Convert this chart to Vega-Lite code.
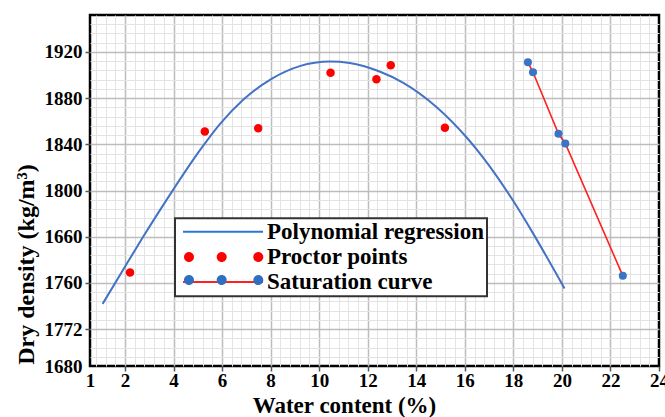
{
  "$schema": "https://vega.github.io/schema/vega-lite/v6.json",
  "width": 569,
  "height": 351,
  "autosize": {"type": "none"},
  "padding": {"left": 90, "top": 15, "right": 6, "bottom": 51},
  "background": "white",
  "config": {
    "view": {"stroke": "#000000", "strokeWidth": 2.5},
    "font": "Liberation Serif"
  },
  "data": {
    "values": [
      {"series": "Polynomial regression", "w": 1.08, "d": 1701.8},
      {"series": "Polynomial regression", "w": 2.0, "d": 1734.0},
      {"series": "Polynomial regression", "w": 2.75, "d": 1759.9},
      {"series": "Polynomial regression", "w": 3.99, "d": 1800.8},
      {"series": "Polynomial regression", "w": 5.09, "d": 1834.9},
      {"series": "Polynomial regression", "w": 5.91, "d": 1857.5},
      {"series": "Polynomial regression", "w": 6.87, "d": 1878.6},
      {"series": "Polynomial regression", "w": 8.04, "d": 1896.7},
      {"series": "Polynomial regression", "w": 9.2, "d": 1907.7},
      {"series": "Polynomial regression", "w": 10.44, "d": 1911.7},
      {"series": "Polynomial regression", "w": 11.26, "d": 1910.5},
      {"series": "Polynomial regression", "w": 12.49, "d": 1903.1},
      {"series": "Polynomial regression", "w": 13.45, "d": 1893.5},
      {"series": "Polynomial regression", "w": 14.83, "d": 1872.4},
      {"series": "Polynomial regression", "w": 16.07, "d": 1846.1},
      {"series": "Polynomial regression", "w": 16.81, "d": 1827.0},
      {"series": "Polynomial regression", "w": 17.98, "d": 1791.5},
      {"series": "Polynomial regression", "w": 18.8, "d": 1763.3},
      {"series": "Polynomial regression", "w": 20.11, "d": 1715.1},
      {"series": "Proctor points", "w": 2.21, "d": 1729.0},
      {"series": "Proctor points", "w": 5.29, "d": 1851.0},
      {"series": "Proctor points", "w": 7.49, "d": 1854.0},
      {"series": "Proctor points", "w": 10.47, "d": 1902.0},
      {"series": "Proctor points", "w": 12.36, "d": 1896.4},
      {"series": "Proctor points", "w": 12.95, "d": 1908.5},
      {"series": "Proctor points", "w": 15.18, "d": 1854.3},
      {"series": "Saturation curve", "w": 18.6, "d": 1911.0},
      {"series": "Saturation curve", "w": 18.81, "d": 1902.4},
      {"series": "Saturation curve", "w": 19.86, "d": 1849.1},
      {"series": "Saturation curve", "w": 20.14, "d": 1840.7},
      {"series": "Saturation curve", "w": 22.51, "d": 1726.1}
    ]
  },
  "resolve": {"axis": {"x": "independent", "y": "independent"}},
  "layer": [
    {
      "transform": [{"filter": "datum.series === 'Polynomial regression'"}],
      "mark": {"type": "line", "color": "#4472c4", "strokeWidth": 2, "interpolate": "monotone"},
      "encoding": {
        "x": {
          "field": "w", "type": "quantitative",
          "scale": {"domain": [0.56, 24], "nice": false, "zero": false},
          "axis": {
            "orient": "top", "title": null, "labels": false, "ticks": false, "domain": false,
            "grid": true, "gridColor": "#e3e3e3", "gridWidth": 1,
            "values": [0.8, 1.2, 1.6, 2.4, 2.8, 3.2, 3.6, 4.4, 4.8, 5.2, 5.6, 6.4, 6.8, 7.2, 7.6, 8.4, 8.8, 9.2, 9.6, 10.4, 10.8, 11.2, 11.6, 12.4, 12.8, 13.2, 13.6, 14.4, 14.8, 15.2, 15.6, 16.4, 16.8, 17.2, 17.6, 18.4, 18.8, 19.2, 19.6, 20.4, 20.8, 21.2, 21.6, 22.4, 22.8, 23.2, 23.6]
          }
        },
        "y": {
          "field": "d", "type": "quantitative",
          "scale": {"domain": [1648, 1952], "nice": false, "zero": false},
          "axis": {
            "orient": "right", "title": null, "labels": false, "ticks": false, "domain": false,
            "grid": true, "gridColor": "#e3e3e3", "gridWidth": 1,
            "values": [1656, 1664, 1672, 1688, 1696, 1704, 1712, 1728, 1736, 1744, 1752, 1768, 1776, 1784, 1792, 1808, 1816, 1824, 1832, 1848, 1856, 1864, 1872, 1888, 1896, 1904, 1912, 1928, 1936, 1944]
          }
        }
      }
    },
    {
      "transform": [{"filter": "datum.series === 'Proctor points'"}],
      "mark": {"type": "point", "filled": true, "opacity": 1, "size": 72},
      "encoding": {
        "x": {
          "field": "w", "type": "quantitative",
          "scale": {"domain": [0.56, 24], "nice": false, "zero": false},
          "axis": {
            "orient": "bottom",
            "values": [0.56, 2, 4, 6, 8, 10, 12, 14, 16, 18, 20, 22, 24],
            "format": "d",
            "labelExpr": "datum.value < 1 ? '1' : datum.label",
            "domain": false,
            "grid": true, "gridColor": "#bdbdbd", "gridWidth": 1.5,
            "gridOpacity": {"condition": {"test": "datum.value < 1 || datum.value > 23.9", "value": 0}, "value": 1},
            "ticks": true, "tickSize": 5, "tickColor": "#555555", "tickWidth": 1.5,
            "tickOpacity": {"condition": {"test": "datum.value < 1", "value": 0}, "value": 1},
            "labelFont": "Liberation Serif", "labelFontSize": 19, "labelFontWeight": "bold", "labelColor": "#000000",
            "labelBaseline": "middle", "labelPadding": 9, "labelOverlap": false, "labelFlush": false,
            "title": "Water content (%)",
            "titleFont": "Liberation Serif", "titleFontSize": 23, "titleFontWeight": "bold", "titleColor": "#000000",
            "titleX": 254, "titleY": 46, "titleAlign": "center", "titleBaseline": "alphabetic"
          }
        },
        "y": {
          "field": "d", "type": "quantitative",
          "scale": {"domain": [1648, 1952], "nice": false, "zero": false},
          "axis": {
            "orient": "left",
            "values": [1648, 1680, 1720, 1760, 1800, 1840, 1880, 1920],
            "format": "d",
            "labelExpr": "datum.value < 1660 ? '1680' : datum.value == 1680 ? '1772' : datum.value == 1720 ? '1760' : datum.value == 1760 ? '1660' : datum.label",
            "domain": false,
            "grid": true, "gridColor": "#bdbdbd", "gridWidth": 1.5,
            "gridOpacity": {"condition": {"test": "datum.value < 1660", "value": 0}, "value": 1},
            "ticks": true, "tickSize": 5, "tickColor": "#555555", "tickWidth": 1.5,
            "tickOpacity": {"condition": {"test": "datum.value < 1660", "value": 0}, "value": 1},
            "labelFont": "Liberation Serif", "labelFontSize": 19, "labelFontWeight": "bold", "labelColor": "#000000",
            "labelPadding": 3, "labelOverlap": false, "labelFlush": false,
            "title": "Dry density (kg/m³)",
            "titleFont": "Liberation Serif", "titleFontSize": 24, "titleFontWeight": "bold", "titleColor": "#000000",
            "titleX": -57, "titleY": 249, "titleAngle": -90, "titleAlign": "center", "titleBaseline": "alphabetic"
          }
        },
        "color": {
          "field": "series", "type": "nominal",
          "scale": {"domain": ["Polynomial regression", "Proctor points", "Saturation curve"], "range": ["#4472c4", "#ff0000", "#3b74c5"]},
          "legend": {
            "orient": "none", "legendX": 85, "legendY": 203.2, "title": null,
            "fillColor": "#ffffff", "strokeColor": "#333333", "padding": 2,
            "labelFont": "Liberation Serif", "labelFontSize": 23, "labelFontWeight": "bold", "labelColor": "#000000",
            "labelOffset": 67, "labelLimit": 400, "rowPadding": 1.2, "symbolSize": 100,
            "encoding": {
              "symbols": {
                "shape": {"value": {"expr": "datum.value === 'Proctor points' ? 'M-0.9,0a1,1 0 1,0 2,0a1,1 0 1,0 -2,0M5.64,0a1,1 0 1,0 2,0a1,1 0 1,0 -2,0M12.96,0a1,1 0 1,0 2,0a1,1 0 1,0 -2,0' : 'M-1.1,0H14.9'"}},
                "fill": {"value": {"expr": "datum.value === 'Proctor points' ? '#ff0000' : 'transparent'"}},
                "stroke": {"value": {"expr": "datum.value === 'Polynomial regression' ? '#2a78d2' : datum.value === 'Saturation curve' ? '#ff2020' : 'transparent'"}},
                "strokeWidth": {"value": 2},
                "opacity": {"value": 1}
              },
              "legend": {"strokeWidth": {"value": 2}}
            }
          }
        }
      }
    },
    {
      "transform": [{"filter": "datum.series === 'Saturation curve'"}],
      "mark": {"type": "line", "color": "#ff2020", "strokeWidth": 1.6},
      "encoding": {
        "x": {"field": "w", "type": "quantitative", "scale": {"domain": [0.56, 24], "nice": false, "zero": false}, "axis": null},
        "y": {"field": "d", "type": "quantitative", "scale": {"domain": [1648, 1952], "nice": false, "zero": false}, "axis": null}
      }
    },
    {
      "transform": [{"filter": "datum.series === 'Saturation curve'"}],
      "mark": {"type": "point", "filled": true, "size": 65, "color": "#3b74c5"},
      "encoding": {
        "x": {"field": "w", "type": "quantitative", "scale": {"domain": [0.56, 24], "nice": false, "zero": false}, "axis": null},
        "y": {"field": "d", "type": "quantitative", "scale": {"domain": [1648, 1952], "nice": false, "zero": false}, "axis": null},
        "opacity": {
          "field": "series", "type": "ordinal",
          "scale": {"domain": ["Saturation curve"], "range": [1, 1]},
          "legend": {
            "orient": "none", "legendX": 85, "legendY": 251.6, "title": null, "zindex": 2,
            "padding": 2, "labelFont": "Liberation Serif", "labelFontSize": 23, "labelFontWeight": "bold",
            "labelExpr": "''", "labelOffset": 67, "labelLimit": 400, "symbolSize": 100,
            "encoding": {
              "symbols": {
                "shape": {"value": {"expr": "'M-0.9,0a1,1 0 1,0 2,0a1,1 0 1,0 -2,0M5.64,0a1,1 0 1,0 2,0a1,1 0 1,0 -2,0M12.96,0a1,1 0 1,0 2,0a1,1 0 1,0 -2,0'"}},
                "fill": {"value": "#2f6fc0"},
                "stroke": {"value": "transparent"},
                "opacity": {"value": 1}
              }
            }
          }
        }
      }
    }
  ]
}
